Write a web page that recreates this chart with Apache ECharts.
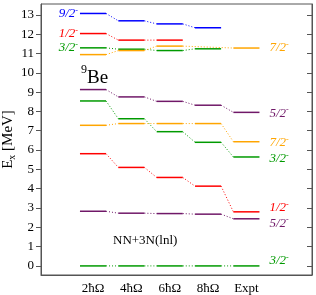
<!DOCTYPE html>
<html>
<head>
<meta charset="utf-8">
<script src="https://cdn.jsdelivr.net/npm/echarts@6/dist/echarts.min.js"></script>
<style>
html,body{margin:0;padding:0;background:#fff;}
#chart{width:316px;height:295px;}
</style>
</head>
<body>
<div id="chart"></div>
<script>
// ---- data ----
const columns = ['2ħΩ', '4ħΩ', '6ħΩ', '8ħΩ', 'Expt'];
const yTicks = [0, 1, 2, 3, 4, 5, 6, 7, 8, 9, 10, 11, 12, 13];
const spins = ['9/2', '1/2', '3/2', '7/2', '5/2', '3/2', '7/2', '1/2', '5/2', '3/2'];
const lv_9_2a = [13.07, 12.69, 12.53, 12.33, null];
const lv_1_2a = [12.03, 11.69, 11.69, null, null];
const lv_3_2a = [11.29, 11.22, 11.15, 11.24, null];
const lv_7_2a = [10.94, 11.15, 11.38, null, 11.28];
const lv_5_2a = [9.13, 8.75, 8.52, 8.32, 7.95];
const lv_3_2b = [8.54, 7.62, 6.95, 6.40, 5.64];
const lv_7_2b = [7.28, 7.37, 7.37, 7.37, 6.43];
const lv_1_2b = [5.81, 5.10, 4.58, 4.13, 2.80];
const lv_5_2b = [2.83, 2.73, 2.71, 2.68, 2.44];
const lv_3_2g = [0, 0, 0, 0, 0];

// ---- styles / layout ----
const BLUE = '#0000ff', RED = '#ff0000', GREEN = '#009a00', ORANGE = '#ffa500', PURPLE = '#701868';
const levelSets = [lv_9_2a, lv_1_2a, lv_3_2a, lv_7_2a, lv_5_2a, lv_3_2b, lv_7_2b, lv_1_2b, lv_5_2b, lv_3_2g];
const colors = [BLUE, RED, GREEN, ORANGE, PURPLE, GREEN, ORANGE, RED, PURPLE, GREEN];
const labelSide = ['left', 'left', 'left', 'right', 'right', 'right', 'right', 'right', 'right', 'right'];
const labelNudge = [0, 0, 0, 0, 1, 2, 1, -4, 4.5, -5];
const HALF = 0.34;
const FONT = 'Liberation Serif';

function renderItem(params, api) {
  const i = params.dataIndex;
  const levels = levelSets[i];
  const color = colors[i];
  const children = [];
  let prev = null;
  levels.forEach((v, j) => {
    if (v == null) return;
    const a = api.coord([j - HALF, v]);
    const b = api.coord([j + HALF, v]);
    if (prev) {
      const p = api.coord([prev.j + HALF, prev.v]);
      children.push({type: 'line', shape: {x1: p[0], y1: p[1], x2: a[0], y2: a[1]},
        style: {stroke: color, lineWidth: 1, lineDash: [1, 2]}});
    }
    children.push({type: 'line', shape: {x1: a[0], y1: a[1], x2: b[0], y2: b[1]},
      style: {stroke: color, lineWidth: 1.5}});
    prev = {j, v};
  });
  let lx, ly, align;
  if (labelSide[i] === 'left') {
    const j = levels.findIndex(v => v != null);
    const a = api.coord([j - HALF, levels[j]]);
    lx = a[0] - 2; ly = a[1]; align = 'right';
  } else {
    let j = levels.length - 1;
    while (levels[j] == null) j--;
    const b = api.coord([j + HALF, levels[j]]);
    lx = b[0] + 10; ly = b[1]; align = 'left';
  }
  children.push({type: 'text', x: lx, y: ly + labelNudge[i],
    style: {text: '{n|' + spins[i] + '}{s|-}', align: align, verticalAlign: 'middle', fill: color,
      rich: {
        n: {fontFamily: FONT, fontSize: 13, lineHeight: 14, fill: color, fontStyle: 'italic'},
        s: {fontFamily: FONT, fontSize: 8, lineHeight: 14, verticalAlign: 'top', fill: color}
      }}});
  return {type: 'group', children};
}

const chart = echarts.init(document.getElementById('chart'), null, {renderer: 'canvas'});
chart.setOption({
  animation: false,
  backgroundColor: '#fff',
  grid: {left: 41, right: 4, top: 4, bottom: 20, containLabel: false, outerBoundsMode: 'none',
    show: true, borderColor: '#555', borderWidth: 1},
  xAxis: {
    type: 'value', min: -1.356, max: 5.71,
    axisLine: {show: true, onZero: false, lineStyle: {color: '#555', width: 1}},
    axisTick: {show: false},
    splitLine: {show: false},
    axisLabel: {customValues: [0, 1, 2, 3, 4], formatter: v => columns[Math.round(v)],
      fontFamily: FONT, fontSize: 13, color: '#000', margin: 7}
  },
  yAxis: [{
    type: 'value', min: -0.47, max: 13.56, position: 'left',
    axisLine: {show: true, onZero: false, lineStyle: {color: '#555', width: 1}},
    axisTick: {show: true, inside: false, length: 5, customValues: yTicks, lineStyle: {color: '#555'}},
    splitLine: {show: false},
    axisLabel: {customValues: yTicks, fontFamily: FONT, fontSize: 13, color: '#000', margin: 7},
    name: '{E|E}{x|x}{M| [MeV]}',
    nameLocation: 'middle', nameRotate: 90, nameGap: 24, nameMoveOverlap: false,
    nameTextStyle: {
      rich: {
        E: {fontFamily: FONT, fontSize: 15, lineHeight: 18, color: '#000'},
        x: {fontFamily: FONT, fontSize: 10, lineHeight: 18, verticalAlign: 'bottom', color: '#000'},
        M: {fontFamily: FONT, fontSize: 15, lineHeight: 18, color: '#000'}
      }
    }
  }, {
    type: 'value', min: -0.47, max: 13.56, position: 'right',
    axisLine: {show: true, onZero: false, lineStyle: {color: '#555', width: 1}},
    axisTick: {show: true, inside: true, length: 5, customValues: yTicks, lineStyle: {color: '#555'}},
    splitLine: {show: false},
    axisLabel: {show: false}
  }],
  graphic: [
    {type: 'text', left: 81, top: 64,
      style: {text: '{s|9}{b|Be}', rich: {
        s: {fontFamily: FONT, fontSize: 12, lineHeight: 24, verticalAlign: 'top', fill: '#000'},
        b: {fontFamily: FONT, fontSize: 19, lineHeight: 24, verticalAlign: 'bottom', fill: '#000'}
      }}},
    {type: 'text', left: 113, top: 234,
      style: {text: 'NN+3N(lnl)', fontFamily: FONT, fontSize: 13, fill: '#000'}}
  ],
  series: [{
    type: 'custom',
    coordinateSystem: 'cartesian2d',
    renderItem: renderItem,
    clip: false,
    data: levelSets.map((s, i) => [i, 0])
  }]
});
</script>
</body>
</html>
